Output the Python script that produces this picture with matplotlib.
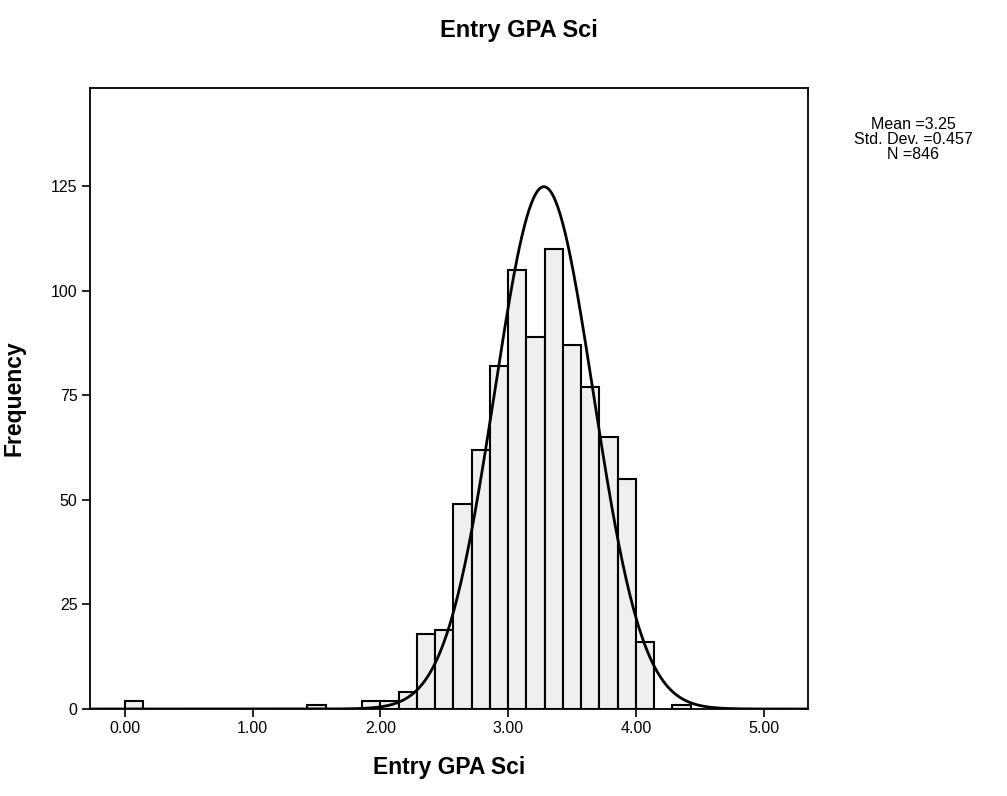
import numpy as np
import matplotlib
matplotlib.use('Agg')
import matplotlib.pyplot as plt

# ── Data ─────────────────────────────────────────────────────────────────────
bin_width = 1 / 7
# counts per bin, bin k covers [k/7, (k+1)/7)
counts = [2, 0, 0, 0, 0, 0, 0, 0, 0, 0,
          1, 0, 0, 2, 2, 4, 18, 19, 49, 62,
          82, 105, 89, 110, 87, 77, 65, 55, 16, 0,
          1]
stats_text = ['Mean =3.25', 'Std. Dev. =0.457', 'N =846']
n_total = 846
# normal curve as drawn on the chart
curve_mean = 3.28
curve_sd = 0.386
x_ticks = [0, 1, 2, 3, 4, 5]
y_ticks = [0, 25, 50, 75, 100, 125]

# ── Style ────────────────────────────────────────────────────────────────────
plt.rcParams.update({
    'font.family': ['Liberation Sans', 'DejaVu Sans'],
    'axes.linewidth': 1.3,
})

fig = plt.figure(figsize=(10.07, 7.96), dpi=100)
ax = fig.add_axes([0.0894, 0.1093, 0.7130, 0.7801])

counts = np.array(counts)
lefts = np.arange(len(counts)) * bin_width
mask = counts > 0
ax.bar(lefts[mask], counts[mask], width=bin_width, align='edge',
       color='#efefef', edgecolor='black', linewidth=1.5, zorder=2)

xs = np.linspace(-0.27, 5.35, 600)
pdf = np.exp(-0.5 * ((xs - curve_mean) / curve_sd) ** 2) / (curve_sd * np.sqrt(2 * np.pi))
ax.plot(xs, n_total * bin_width * pdf, color='black', linewidth=2, zorder=3)

ax.set_xlim(-0.274, 5.348)
ax.set_ylim(0, 148.5)
ax.set_xticks(x_ticks)
ax.set_xticklabels([f'{t:.2f}' for t in x_ticks])
ax.set_yticks(y_ticks)
ax.tick_params(direction='out', length=6, width=1.2, labelsize=11.5,
               colors='black', pad=3)

ax.set_xlabel('Entry GPA Sci', fontsize=16.5, fontweight='bold', labelpad=14)
ax.set_ylabel('Frequency', fontsize=16.5, fontweight='bold')
ax.yaxis.set_label_coords(-0.09, 0.5)

fig.text(0.515, 0.962, 'Entry GPA Sci', fontsize=17, fontweight='bold',
         ha='center', va='center')
fig.text(0.907, 0.853, '\n'.join(stats_text), fontsize=11.5,
         ha='center', va='top', linespacing=1.0)

fig.savefig('out.png', dpi=100)
